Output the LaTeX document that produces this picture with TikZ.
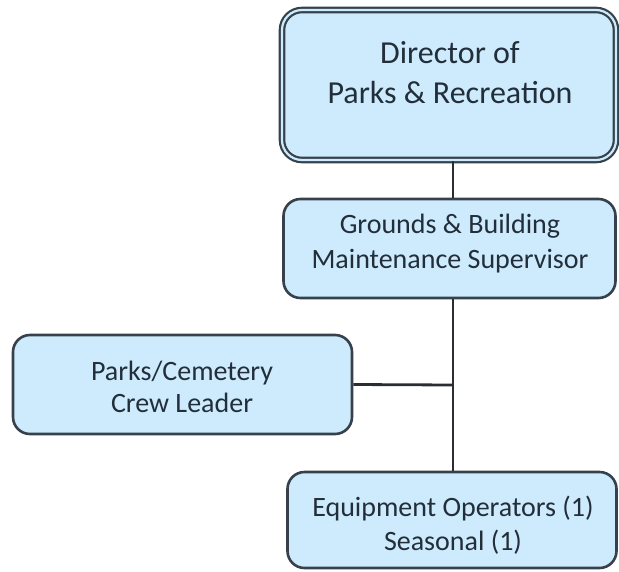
\documentclass[tikz,border=0pt]{standalone}
\usepackage{fontspec}
\setmainfont{Carlito}
\definecolor{boxfill}{HTML}{CDEBFC}
\definecolor{boxdraw}{HTML}{36414C}
\definecolor{txt}{HTML}{222E3A}
\definecolor{linec}{HTML}{2A2E33}
\begin{document}
\begin{tikzpicture}[x=1pt,y=-1pt,
  orgbox/.style={draw=boxdraw,line width=2.6pt,fill=boxfill,rounded corners=17pt,inner sep=0pt},
  orgtext/.style={align=center,text=txt,inner sep=0pt},
  conn/.style={draw=linec,line width=2.8pt}]
\useasboundingbox (0,0) rectangle (619,571);
% Director (double border)
\node[orgbox,minimum width=334pt,minimum height=150pt,double=boxfill,double distance=2.2pt,
  line width=2.2pt,rounded corners=20pt] (dir) at (449,85) {};
\node[orgtext,font=\fontsize{32}{40}\selectfont] (dirt) at (450,73) {Director of\\Parks \& Recreation};
\node[orgbox,minimum width=332pt,minimum height=99pt] (grd) at (449.5,248.5) {};
\node[orgtext,font=\fontsize{28}{35}\selectfont] (grdt) at (450,244) {Grounds \& Building\\Maintenance Supervisor};
\node[orgbox,minimum width=339pt,minimum height=99pt] (pcl) at (182.5,384.5) {};
\node[orgtext,font=\fontsize{28}{32}\selectfont] (pclt) at (182,387) {Parks/Cemetery\\Crew Leader};
\node[orgbox,minimum width=329pt,minimum height=96pt] (eqp) at (452,520) {};
\node[orgtext,font=\fontsize{28}{34}\selectfont] (eqpt) at (453,525) {Equipment Operators (1)\\Seasonal (1)};
\coordinate (j) at (453,385);
\draw[conn] (dir.south -| j) -- (grd.north -| j);
\draw[conn] (grd.south -| j) -- (eqp.north -| j);
\draw[conn] (pcl.east) -- (j);
\end{tikzpicture}
\end{document}
